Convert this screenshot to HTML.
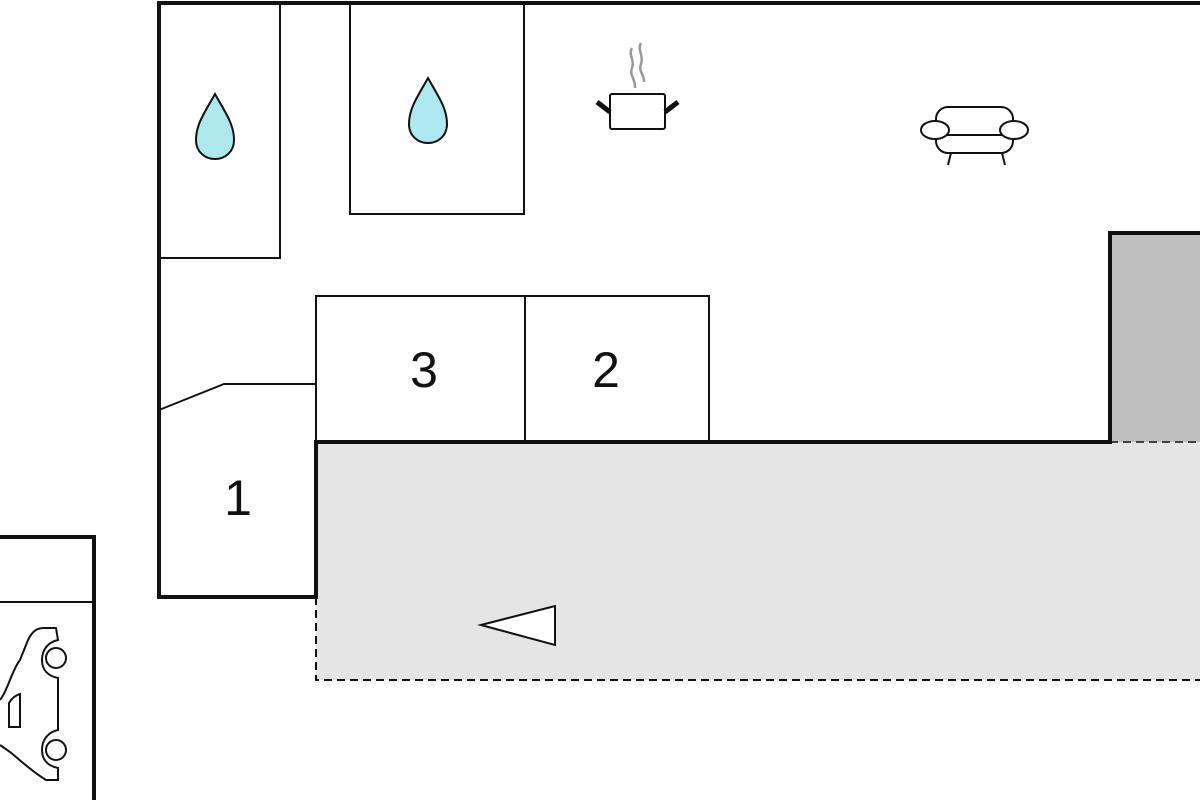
<!DOCTYPE html>
<html><head><style>html,body{margin:0;padding:0;background:#fff}svg{display:block}</style></head><body>
<svg width="1200" height="800" viewBox="0 0 1200 800" xmlns="http://www.w3.org/2000/svg">
<rect x="316" y="442" width="890" height="238" fill="#e5e5e5"/>
<rect x="1110" y="233" width="95" height="209" fill="#c0c0c0"/>
<path d="M316 597 V680 H1200" fill="none" stroke="#111" stroke-width="2" stroke-dasharray="8,5"/>
<path d="M1110 442 H1200" fill="none" stroke="#111" stroke-width="1.5" stroke-dasharray="8,5"/>
<g fill="none" stroke="#111" stroke-width="2">
<path d="M159 3 V258 H280 V3"/>
<path d="M350 3 V214 H524 V3"/>
<path d="M316 442 V296 H709 V442"/>
<path d="M525 296 V442"/>
<path d="M159 410 L224 384 H316"/>
<path d="M0 602 H94"/>
</g>
<g fill="none" stroke="#111" stroke-width="4">
<path d="M1200 3 H159 V597 H316 V442 H1110 V233 H1200"/>
<path d="M0 537 H94 V800"/>
</g>
<g font-family="Liberation Sans, sans-serif" font-size="50" fill="#111" text-anchor="middle">
<text x="424" y="387">3</text>
<text x="606" y="387">2</text>
<text x="238" y="515">1</text>
</g>
<polygon points="481,625 555,606 555,645" fill="#fff" stroke="#111" stroke-width="2"/>
<g fill="#aee8ef" stroke="#111" stroke-width="2">
<path d="M215 94 C205 112 196 124 196 140 C196 152 205 159 215 159 C225 159 234 152 234 140 C234 124 225 112 215 94Z"/>
<path d="M428 78 C418 96 409 108 409 124 C409 136 418 143 428 143 C438 143 447 136 447 124 C447 108 438 96 428 78Z"/>
</g>
<g fill="none" stroke="#999" stroke-width="2.5">
<path d="M632 48 C628 55 635 60 632 68 C629 75 636 80 635 88"/>
<path d="M641 43 C637 50 644 56 641 64 C638 71 645 76 644 82"/>
</g>
<rect x="610" y="94" width="55" height="35" rx="2" fill="#fff" stroke="#111" stroke-width="2"/>
<path d="M597 102 L610 112 M678 102 L665 112" stroke="#111" stroke-width="5"/>
<g fill="#fff" stroke="#111" stroke-width="2">
<rect x="936" y="107" width="77" height="46" rx="12"/>
<path d="M936 135 H1013"/>
<ellipse cx="935" cy="130" rx="14" ry="9"/>
<ellipse cx="1014" cy="130" rx="14" ry="9"/>
<path d="M951 153 L948 165 M1002 153 L1005 165"/>
</g>
<g fill="#fff" stroke="#111" stroke-width="2">
<path d="M0 700 C8 690 12 670 20 660 L28 640 C32 632 36 628 44 628 L56 628 L58 640 C48 642 42 650 42 660 C42 670 48 676 58 678 L58 730 C48 732 42 740 42 750 C42 760 48 766 58 768 L58 780 L46 780 C30 770 20 760 10 752 L0 745"/>
<circle cx="56" cy="658" r="10"/>
<circle cx="56" cy="750" r="10"/>
<path d="M9 727 L9 703 C12 698 16 695 20 694 L20 727 Z"/>
</g>
</svg>
</body></html>
